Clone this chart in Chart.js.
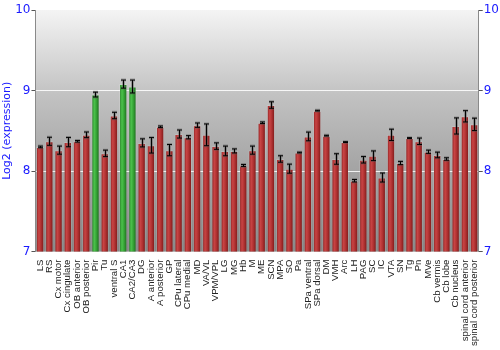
<!DOCTYPE html>
<html>
<head>
<meta charset="utf-8">
<script src="https://cdn.jsdelivr.net/npm/chart.js@4"></script>
<style>
  html, body { margin: 0; padding: 0; background: #fff; }
  #wrap { width: 500px; height: 350px; }
</style>
</head>
<body>
<div id="wrap"><canvas id="chart"></canvas></div>
<script>
const regions = ['LS', 'RS', 'Cx motor', 'Cx cingulate', 'OB anterior', 'OB posterior', 'Pir', 'Tu',
  'ventral S', 'CA1', 'CA2/CA3', 'DG', 'A anterior', 'A posterior', 'GP', 'CPu lateral', 'CPu medial',
  'MD', 'VA/VL', 'VPM/VPL', 'LG', 'MG', 'Hb', 'M', 'ME', 'SCN', 'MPA', 'SO', 'Pa', 'SPa ventral',
  'SPa dorsal', 'DM', 'VMH', 'Arc', 'LH', 'PAG', 'SC', 'IC', 'VTA', 'SN', 'Tg', 'Pn', 'MVe',
  'Cb vermis', 'Cb lobe', 'Cb nucleus', 'spinal cord anterior', 'spinal cord posterior'];

const expression = [8.30, 8.37, 8.26, 8.36, 8.37, 8.45, 8.95, 8.22, 8.69, 9.08, 9.05, 8.35, 8.32, 8.55,
  8.26, 8.46, 8.42, 8.57, 8.45, 8.31, 8.25, 8.25, 8.07, 8.26, 8.60, 8.82, 8.15, 8.03, 8.23, 8.43,
  8.75, 8.44, 8.15, 8.36, 7.88, 8.14, 8.19, 7.92, 8.45, 8.10, 8.41, 8.37, 8.24, 8.20, 8.15, 8.56,
  8.68, 8.58];

const errors = [0.01, 0.05, 0.05, 0.058, 0.01, 0.035, 0.03, 0.04, 0.04, 0.05, 0.08, 0.05, 0.096, 0.01,
  0.07, 0.05, 0.02, 0.027, 0.135, 0.04, 0.06, 0.025, 0.012, 0.05, 0.01, 0.04, 0.04, 0.056, 0.005,
  0.054, 0.005, 0.005, 0.065, 0.005, 0.015, 0.04, 0.06, 0.056, 0.07, 0.02, 0.005, 0.04, 0.02,
  0.035, 0.015, 0.1, 0.07, 0.077];

const highlighted = ['Pir', 'CA1', 'CA2/CA3'];
const yTicks = [7, 8, 9, 10];

const BAR_PCT = 0.9;

// gradient horizontal sur chaque barre (effet cylindre)
function barFill(ctx) {
  const chart = ctx.chart;
  const i = ctx.dataIndex;
  const green = highlighted.includes(regions[i]);
  const x = chart.scales.x;
  if (!x || !x.width || i === undefined) return green ? '#3aa83a' : '#b83434';
  const cx = x.getPixelForValue(i);
  const w = (x.width / regions.length) * BAR_PCT;
  const g = chart.ctx.createLinearGradient(cx - w / 2, 0, cx + w / 2, 0);
  if (green) {
    g.addColorStop(0, '#1c701c');
    g.addColorStop(0.35, '#4cc24c');
    g.addColorStop(0.6, '#36a436');
    g.addColorStop(1, '#176017');
  } else {
    g.addColorStop(0, '#841a1a');
    g.addColorStop(0.35, '#c84444');
    g.addColorStop(0.6, '#b03232');
    g.addColorStop(1, '#721313');
  }
  return g;
}

const plotBackground = {
  id: 'plotBackground',
  beforeDraw(chart) {
    const { ctx, chartArea: a } = chart;
    const g = ctx.createLinearGradient(0, a.top, 0, a.bottom);
    g.addColorStop(0, '#f4f4f4');
    g.addColorStop(0.35, '#c2c2c2');
    g.addColorStop(0.7, '#a0a0a0');
    g.addColorStop(1, '#858585');
    ctx.save();
    ctx.fillStyle = g;
    ctx.fillRect(a.left, a.top, a.right - a.left, a.bottom - a.top);
    ctx.restore();
  }
};

const errorBars = {
  id: 'errorBars',
  afterDatasetsDraw(chart) {
    const { ctx } = chart;
    const y = chart.scales.y;
    const meta = chart.getDatasetMeta(0);
    ctx.save();
    meta.data.forEach((bar, i) => {
      const hi = y.getPixelForValue(expression[i] + errors[i]);
      const lo = y.getPixelForValue(expression[i] - errors[i]);
      const x = Math.round(bar.x) + 0.5;
      // halo gris
      ctx.strokeStyle = 'rgba(90,90,90,0.45)';
      ctx.lineWidth = 3;
      ctx.beginPath();
      ctx.moveTo(x, hi); ctx.lineTo(x, lo);
      ctx.moveTo(x - 2.5, hi); ctx.lineTo(x + 2.5, hi);
      ctx.moveTo(x - 2.5, lo); ctx.lineTo(x + 2.5, lo);
      ctx.stroke();
      ctx.strokeStyle = '#000';
      ctx.lineWidth = 1;
      ctx.beginPath();
      ctx.moveTo(x, hi); ctx.lineTo(x, lo);
      ctx.moveTo(x - 2.5, hi); ctx.lineTo(x + 2.5, hi);
      ctx.moveTo(x - 2.5, lo); ctx.lineTo(x + 2.5, lo);
      ctx.stroke();
    });
    ctx.restore();
  }
};

const yAxisBase = {
  min: 7,
  max: 10,
  afterBuildTicks: axis => { axis.ticks = yTicks.map(v => ({ value: v })); },
  ticks: { color: '#1a1aff', font: { family: 'DejaVu Sans', size: 12 }, padding: 1 },
  border: { color: '#8a8a8a', width: 1 }
};

new Chart(document.getElementById('chart'), {
  type: 'bar',
  data: {
    labels: regions,
    datasets: [{
      data: expression,
      backgroundColor: barFill,
      borderColor: 'rgba(255,255,255,0.15)',
      borderWidth: 1,
      barPercentage: BAR_PCT,
      categoryPercentage: 1
    }]
  },
  options: {
    responsive: true,
    maintainAspectRatio: false,
    animation: false,
    events: [],
    layout: { padding: { top: 10, left: 0, right: 0, bottom: 4 } },
    plugins: { legend: { display: false }, tooltip: { enabled: false } },
    scales: {
      x: {
        grid: { display: false },
        border: { display: false },
        ticks: {
          autoSkip: false,
          maxRotation: 90,
          minRotation: 90,
          padding: 0,
          color: '#222',
          font: { family: 'Liberation Sans', size: 9.6 }
        }
      },
      y: Object.assign({}, yAxisBase, {
        position: 'left',
        title: {
          display: true,
          text: 'Log2 (expression)',
          color: '#1a1aff',
          font: { family: 'DejaVu Sans', size: 11 },
          padding: { top: 1, bottom: 0 }
        },
        grid: {
          color: c => (c.tick && (c.tick.value === 8 || c.tick.value === 9)) ? 'rgba(255,255,255,0.85)' : 'rgba(0,0,0,0)',
          tickColor: '#555',
          tickLength: 4,
          lineWidth: 1
        }
      }),
      y2: Object.assign({}, yAxisBase, {
        position: 'right',
        grid: { drawOnChartArea: false, tickColor: '#555', tickLength: 4 }
      })
    }
  },
  plugins: [plotBackground, errorBars]
});
</script>
</body>
</html>
